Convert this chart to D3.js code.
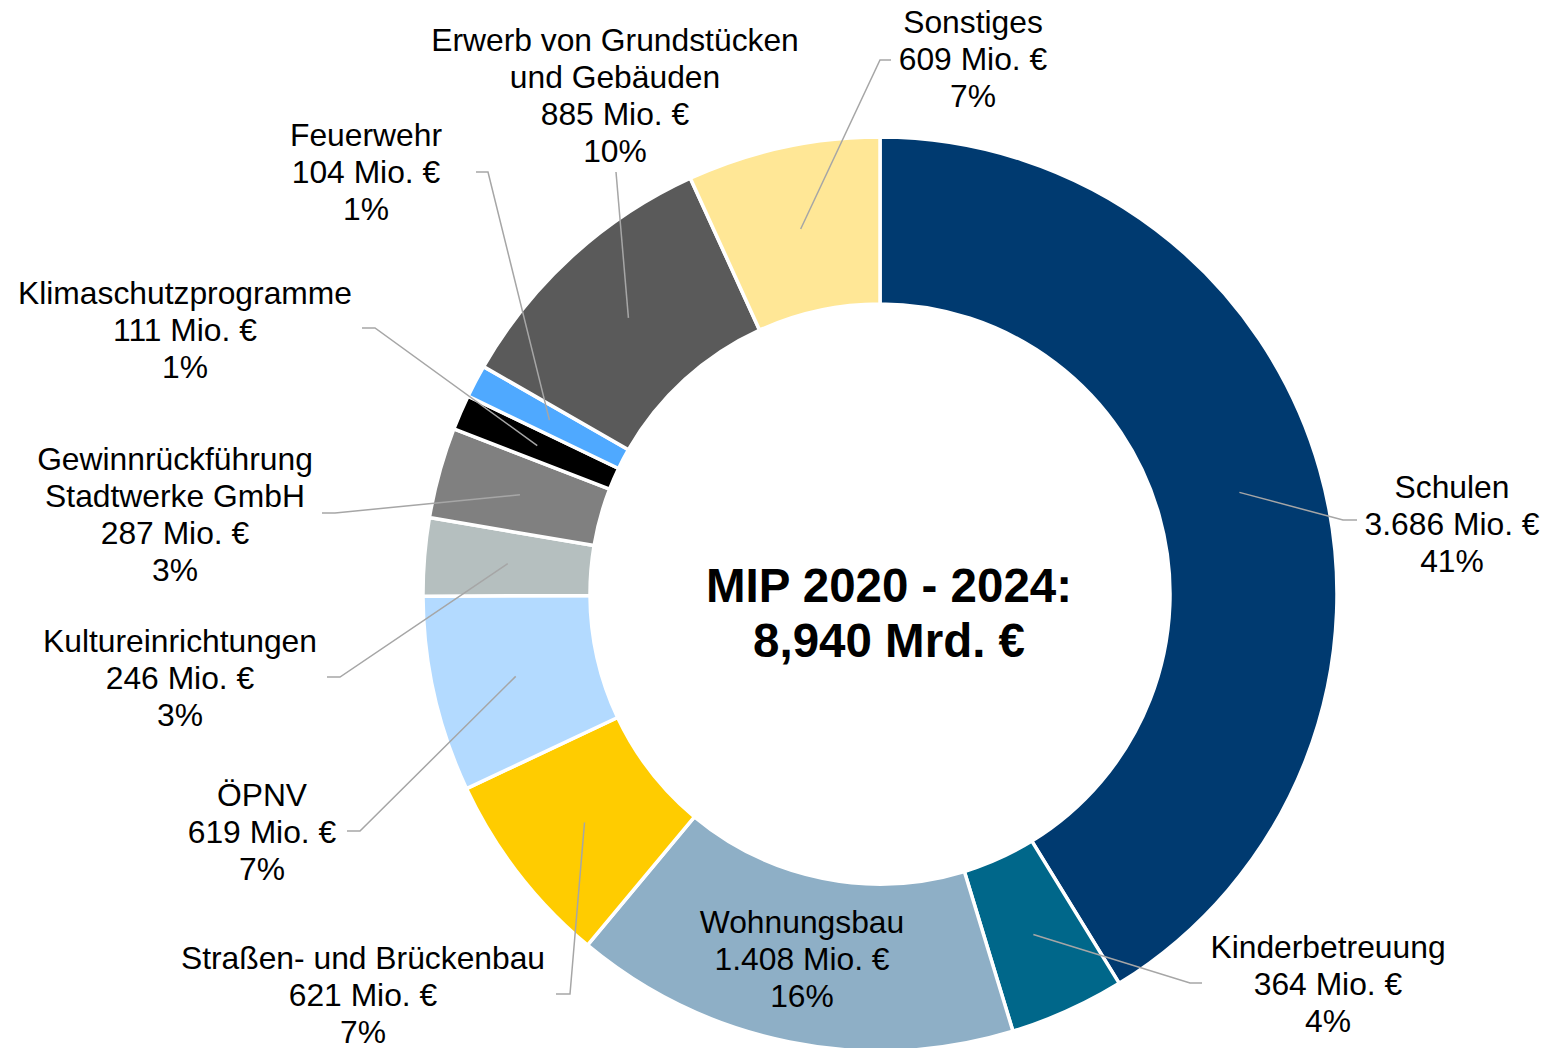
<!DOCTYPE html>
<html>
<head>
<meta charset="utf-8">
<script src="https://cdn.jsdelivr.net/npm/d3@7"></script>
<style>
  body { margin: 0; background: #fff; }
  svg text { font-family: Arial, "Liberation Sans", sans-serif; fill: #000; }
</style>
</head>
<body>
<div class="donut"></div>
<script>
// DATA ------------------------------------
const categories = [
    "Schulen",
    "Kinderbetreuung",
    "Wohnungsbau",
    "Straßen- und Brückenbau",
    "ÖPNV",
    "Kultureinrichtungen",
    "Gewinnrückführung\nStadtwerke GmbH",
    "Klimaschutzprogramme",
    "Feuerwehr",
    "Erwerb von Grundstücken\nund Gebäuden",
    "Sonstiges"
];
const values = [3686, 364, 1408, 621, 619, 246, 287, 111, 104, 885, 609]; // Mio. €
const colors = ["#003a70", "#00678a", "#8eafc6", "#ffcc00", "#b3daff", "#b5bfbf",
                "#808080", "#000000", "#4fa9ff", "#5a5a5a", "#ffe796"];
const title = "MIP 2020 - 2024:";

// label layout: x = text centre, y = centre of first line, lead = elbow + stub end (null = no leader)
const labelLayout = [
    {x: 1452, y: 487, lead: [[1343, 520], [1357, 520]]},
    {x: 1328, y: 947, lead: [[1190, 983], [1202, 983]]},
    {x: 802,  y: 922, lead: null},
    {x: 363,  y: 958, lead: [[570, 994], [556, 994]]},
    {x: 262,  y: 795, lead: [[360, 831], [347, 831]]},
    {x: 180,  y: 641, lead: [[340, 677], [327, 677]]},
    {x: 175,  y: 459, lead: [[335, 513], [322, 513]]},
    {x: 185,  y: 293, lead: [[375, 328], [362, 328]]},
    {x: 366,  y: 135, lead: [[488, 172], [476, 172]]},
    {x: 615,  y: 40,  lead: [[616, 172], [616, 172]]},
    {x: 973,  y: 22,  lead: [[880, 60], [891, 60]]}
];

// CHART -----------------------------------
const width = 1547, height = 1048;
const cx = 880, cy = 594;
const outerR = 457, innerR = 290;
const lineH = 37;

const de = d3.formatLocale({decimal: ",", thousands: ".", grouping: [3], currency: ["", " €"]});
const fmtInt = de.format(",d");
const fmtMrd = de.format(",.3f");

const total = d3.sum(values);
const data = categories.map((c, i) => ({name: c, value: values[i], color: colors[i]}));

const svg = d3.select(".donut")
    .append("svg")
    .attr("width", width)
    .attr("height", height);

const g = svg.append("g")
    .attr("transform", "translate(" + cx + "," + cy + ")");

const pie = d3.pie()
    .sort(null)
    .value(d => d.value);

const arc = d3.arc()
    .innerRadius(innerR)
    .outerRadius(outerR);

const arcs = pie(data);

g.selectAll(".slice")
    .data(arcs)
    .enter()
    .append("path")
    .attr("class", "slice")
    .attr("d", arc)
    .attr("fill", d => d.data.color)
    .attr("stroke", "#fff")
    .attr("stroke-width", 3.5)
    .attr("stroke-linejoin", "round");

// leader lines
arcs.forEach((d, i) => {
    const lay = labelLayout[i];
    if (!lay.lead) return;
    const c = arc.centroid(d);
    const pts = [[c[0] + cx, c[1] + cy]].concat(lay.lead);
    svg.append("path")
        .attr("d", d3.line()(pts))
        .attr("fill", "none")
        .attr("stroke", "#a6a6a6")
        .attr("stroke-width", 1.5);
});

// labels
arcs.forEach((d, i) => {
    const lay = labelLayout[i];
    const lines = d.data.name.split("\n")
        .concat([fmtInt(d.data.value) + " Mio. €", Math.round(d.data.value / total * 100) + "%"]);
    const t = svg.append("text")
        .attr("text-anchor", "middle")
        .attr("font-size", 31.8);
    lines.forEach((s, j) => {
        t.append("tspan")
            .attr("x", lay.x)
            .attr("y", lay.y + j * lineH)
            .attr("dy", "0.35em")
            .text(s);
    });
});

// centre text
const centre = svg.append("text")
    .attr("text-anchor", "middle")
    .attr("font-size", 47.5)
    .attr("font-weight", "bold");
[title, fmtMrd(total / 1000) + " Mrd. €"].forEach((s, j) => {
    centre.append("tspan")
        .attr("x", 889)
        .attr("y", 585 + j * 55)
        .attr("dy", "0.35em")
        .text(s);
});
</script>
</body>
</html>
